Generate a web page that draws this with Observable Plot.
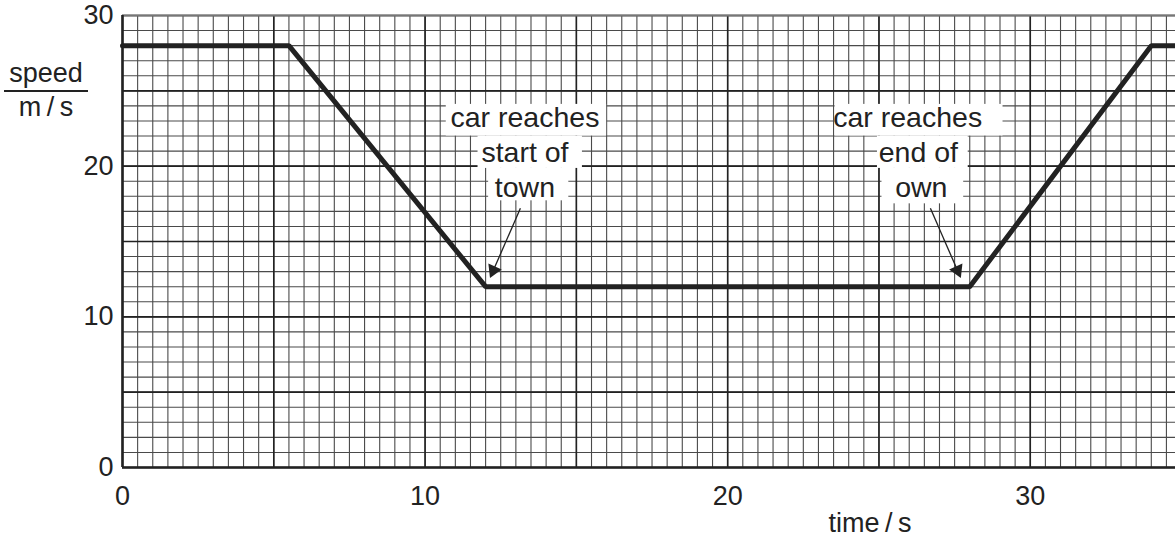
<!DOCTYPE html>
<html>
<head>
<meta charset="utf-8">
<script src="https://cdn.jsdelivr.net/npm/d3@7"></script>
<script src="https://cdn.jsdelivr.net/npm/@observablehq/plot@0.6"></script>
<style>
  html, body { margin: 0; padding: 0; background: #fff; overflow: hidden; }
  #chart { position: relative; width: 1175px; height: 539px; }
  .ylab { position: absolute; font-family: "Liberation Sans", Arial, sans-serif; font-size: 27px; color: #222; text-align: center; }
</style>
</head>
<body>
<div id="chart"></div>
<script>
// ---- data ----
const time  = [0, 5.5, 12, 28, 34, 34.8];
const speed = [28, 28, 12, 12, 28, 28];

const xTickValues = [0, 10, 20, 30];
const yTickValues = [0, 10, 20, 30];

const noteLines = ["car reaches", "start of", "town", "car reaches", "end of", "own"];
const noteX     = [13.3, 13.3, 13.3, 25.95, 26.3, 26.4];
const noteY     = [23.2, 20.85, 18.55, 23.2, 20.85, 18.55];

const boxX1 = [10.7, 11.75, 12.1, 23.55, 24.95, 25.1];
const boxX2 = [16.0, 15.2, 14.75, 29.1, 27.95, 27.8];
const boxY1 = [22.0, 19.85, 17.7, 22.0, 19.85, 17.5];
const boxY2 = [24.1, 22.0, 19.85, 24.1, 22.0, 19.85];

const arrowX1 = [13.15, 26.7];
const arrowY1 = [17.2, 17.2];
const arrowX2 = [12.15, 27.7];
const arrowY2 = [12.6, 12.6];

// ---- layout ----
const W = 1175, H = 539;
const mL = 122, mT = 15, mB = 72, mR = 0;
const xDomain = [0, 34.8], yDomain = [0, 30];

const line = time.map((t, i) => ({t, v: speed[i]}));
const notes = noteLines.map((s, i) => ({s, x: noteX[i], y: noteY[i]}));
const boxes = boxX1.map((x1, i) => ({x1, x2: boxX2[i], y1: boxY1[i], y2: boxY2[i]}));

const minorX = d3.range(0, 34.8, 0.5);
const minorY = d3.range(0, 30.01, 1);
const majorX = d3.range(0, 34.8, 5);
const majorY = d3.range(0, 30.01, 5);

// pixel helpers for arrow-head orientation
const px = d3.scaleLinear(xDomain, [mL, W - mR]);
const py = d3.scaleLinear(yDomain, [H - mB, mT]);
const tipBack = 8;
const arrows = arrowX1.map((x1, i) => {
  const X1 = px(x1), Y1 = py(arrowY1[i]), X2 = px(arrowX2[i]), Y2 = py(arrowY2[i]);
  const dx = X2 - X1, dy = Y2 - Y1, L = Math.hypot(dx, dy);
  const cx = X2 - dx / L * tipBack, cy = Y2 - dy / L * tipBack;
  return {
    x1, y1: arrowY1[i],
    hx: px.invert(cx), hy: py.invert(cy),
    angle: Math.atan2(dx, -dy) * 180 / Math.PI
  };
});

const chart = Plot.plot({
  width: W, height: H,
  marginLeft: mL, marginTop: mT, marginBottom: mB, marginRight: mR,
  x: {domain: xDomain},
  y: {domain: yDomain},
  style: {fontFamily: "Liberation Sans, Arial, sans-serif", fontSize: "27px", color: "#222", background: "#fff", overflow: "visible"},
  marks: [
    Plot.ruleX(minorX, {stroke: "#4a4a4a", strokeWidth: 1.1}),
    Plot.ruleY(minorY, {stroke: "#4a4a4a", strokeWidth: 1.1}),
    Plot.ruleX(majorX, {stroke: "#222", strokeWidth: 1.6}),
    Plot.ruleY(majorY, {stroke: "#222", strokeWidth: 1.6}),
    Plot.ruleY([30], {stroke: "#777", strokeWidth: 2}),
    Plot.ruleX([0], {stroke: "#222", strokeWidth: 2.5}),
    Plot.ruleY([0], {stroke: "#222", strokeWidth: 2.5}),
    Plot.axisX(xTickValues, {tickSize: 0, tickPadding: 18, label: null, fontSize: 27}),
    Plot.axisY(yTickValues, {tickSize: 0, tickPadding: 9, label: null, fontSize: 27}),
    Plot.rect(boxes, {x1: "x1", x2: "x2", y1: "y1", y2: "y2", fill: "#fff"}),
    Plot.text(notes, {x: "x", y: "y", text: "s", fill: "#222", fontSize: 28.5}),
    Plot.line(line, {x: "t", y: "v", stroke: "#222", strokeWidth: 5, strokeLinejoin: "miter"}),
    Plot.link(arrows, {x1: "x1", y1: "y1", x2: "hx", y2: "hy", stroke: "#222", strokeWidth: 1.3}),
    Plot.dot(arrows, {x: "hx", y: "hy", symbol: "triangle", r: 5.4, rotate: "angle", fill: "#222", stroke: "none"})
  ]
});
document.getElementById("chart").appendChild(chart);

// axis titles (outside the plotting frame)
const box = document.getElementById("chart");
const sp = document.createElement("div");
sp.className = "ylab";
sp.style.left = "4px"; sp.style.top = "58px"; sp.style.width = "84px";
sp.innerHTML = '<div style="border-bottom:2px solid #222;line-height:30px;padding-bottom:2px">speed</div><div style="line-height:30px">m\u2009/\u2009s</div>';
box.appendChild(sp);
const tl = document.createElement("div");
tl.className = "ylab";
tl.style.left = "810px"; tl.style.top = "508px"; tl.style.width = "120px";
tl.textContent = "time\u2009/\u2009s";
box.appendChild(tl);
</script>
</body>
</html>
